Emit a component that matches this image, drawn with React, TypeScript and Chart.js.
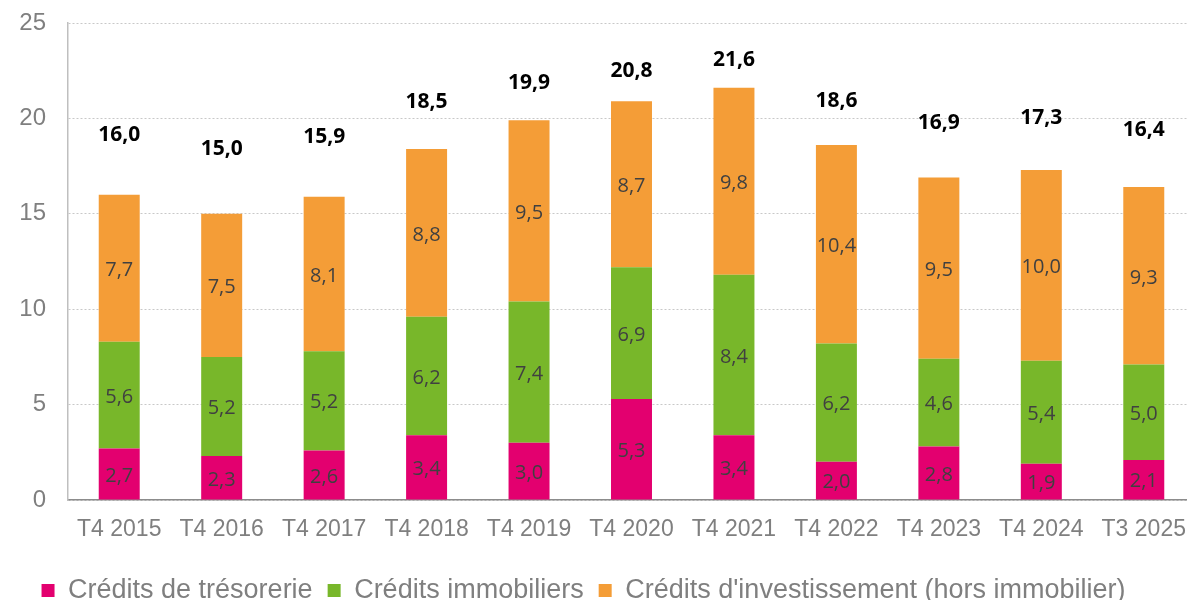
import React, { useEffect, useRef } from "react";
import { Chart, registerables } from "chart.js";

Chart.register(...registerables);

const categories = ["T4 2015", "T4 2016", "T4 2017", "T4 2018", "T4 2019", "T4 2020", "T4 2021", "T4 2022", "T4 2023", "T4 2024", "T3 2025"];
const tresorerie = [2.7, 2.3, 2.6, 3.4, 3.0, 5.3, 3.4, 2.0, 2.8, 1.9, 2.1];
const immobiliers = [5.6, 5.2, 5.2, 6.2, 7.4, 6.9, 8.4, 6.2, 4.6, 5.4, 5.0];
const investissement = [7.7, 7.5, 8.1, 8.8, 9.5, 8.7, 9.8, 10.4, 9.5, 10.0, 9.3];
const totals = [16.0, 15.0, 15.9, 18.5, 19.9, 20.8, 21.6, 18.6, 16.9, 17.3, 16.4];
const seriesNames = ["Crédits de trésorerie", "Crédits immobiliers", "Crédits d'investissement (hors immobilier)"];

const fmt = (v: number) => v.toFixed(1).replace(".", ",");

const labelPlugin = {
  id: "valueLabels",
  afterDatasetsDraw(chart: any) {
    const ctx = chart.ctx;
    ctx.save();
    ctx.textAlign = "center";
    ctx.textBaseline = "middle";
    ctx.font = "20px 'Open Sans'";
    ctx.fillStyle = "#404040";
    chart.data.datasets.forEach((ds: any, di: number) => {
      const meta = chart.getDatasetMeta(di);
      meta.data.forEach((bar: any, i: number) => {
        ctx.fillText(fmt(ds.data[i]), bar.x, (bar.y + bar.base) / 2 + 2);
      });
    });
    ctx.font = "bold 21px 'Open Sans'";
    ctx.fillStyle = "#000000";
    const yScale = chart.scales.y;
    totals.forEach((t, i) => {
      const bar = chart.getDatasetMeta(chart.data.datasets.length - 1).data[i];
      const top = yScale.getPixelForValue(t);
      ctx.fillText(fmt(t), bar.x, 0.7 * top - 1);
    });
    ctx.restore();
  },
};

const legendShift = {
  id: "legendShift",
  afterLayout(chart: any) {
    const lg = chart.legend;
    if (!lg) return;
    const dy = 14;
    const dx = -14;
    lg.top += dy;
    lg.bottom += dy;
    lg.left += dx;
    lg.right += dx;
  },
};

export default function App() {
  const ref = useRef<HTMLCanvasElement>(null);
  useEffect(() => {
    document.body.style.margin = "0";
    const chart = new Chart(ref.current!, {
      type: "bar",
      data: {
        labels: categories,
        datasets: [
          { label: seriesNames[0], data: tresorerie, backgroundColor: "#E3006F" },
          { label: seriesNames[1], data: immobiliers, backgroundColor: "#78B72A" },
          { label: seriesNames[2], data: investissement, backgroundColor: "#F49D37" },
        ],
      },
      options: {
        responsive: false,
        animation: false,
        maintainAspectRatio: false,
        layout: { padding: { top: 23, bottom: 0, left: 0, right: 0 } },
        datasets: { bar: { barPercentage: 0.4, categoryPercentage: 1 } },
        plugins: {
          legend: {
            position: "bottom",
            labels: {
              boxWidth: 13,
              boxHeight: 13,
              padding: 15,
              color: "#7F7F7F",
              font: { family: "'Liberation Sans', Arial, sans-serif", size: 27 },
            },
          },
          tooltip: { enabled: false },
        },
        scales: {
          x: {
            stacked: true,
            afterFit: (s: any) => {
              s.height = 48;
              s.paddingLeft = 0;
              s.paddingRight = 0;
            },
            grid: { display: false, drawTicks: false },
            border: { color: "#8C8C8C", width: 1.5 },
            ticks: {
              color: "#7F7F7F",
              padding: 16,
              maxRotation: 0,
              font: { family: "'Liberation Sans', Arial, sans-serif", size: 23 },
            },
          },
          y: {
            stacked: true,
            min: 0,
            max: 25,
            afterFit: (s: any) => {
              s.width = 68;
              s.paddingTop = 0;
              s.paddingBottom = 0;
            },
            grid: { color: "#C8C8C8", drawTicks: false },
            border: { color: "#BFBFBF", width: 1.5, dash: [2, 2] } as any,
            ticks: {
              stepSize: 5,
              color: "#7F7F7F",
              padding: 22,
              font: { family: "'Liberation Sans', Arial, sans-serif", size: 24 },
            },
          },
        },
      },
      plugins: [labelPlugin, legendShift],
    });
    return () => chart.destroy();
  }, []);
  return (
    <div style={{ width: 1187, height: 600, overflow: "hidden", position: "relative" }}>
      <canvas ref={ref} width={1195} height={600} style={{ display: "block" }} />
    </div>
  );
}
